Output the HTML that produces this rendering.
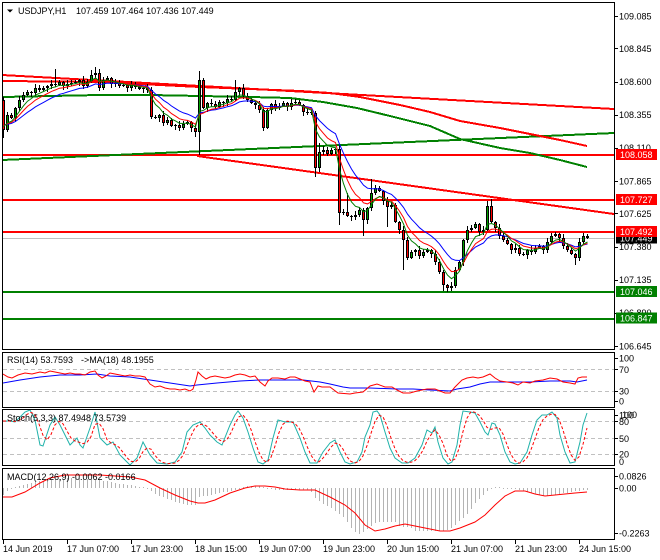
<!DOCTYPE html>
<html><head><meta charset="utf-8">
<style>
html,body{margin:0;padding:0;background:#fff;width:660px;height:560px;overflow:hidden}
svg{display:block}
text{font-family:"Liberation Sans",Arial,sans-serif;font-size:9px;fill:#000}
.w{fill:#fff}
</style></head><body>
<svg id="c" xmlns="http://www.w3.org/2000/svg" width="660" height="560" viewBox="0 0 660 560">
<defs>
<clipPath id="cm"><rect x="3" y="3" width="611" height="346"/></clipPath>
<clipPath id="cr"><rect x="3" y="353" width="611" height="54"/></clipPath>
<clipPath id="cs"><rect x="3" y="410" width="611" height="55"/></clipPath>
<clipPath id="cd"><rect x="3" y="469" width="611" height="70"/></clipPath>
</defs>
<rect width="660" height="560" fill="#fff"/>
<g id="main" clip-path="url(#cm)" shape-rendering="crispEdges">
<line x1="2" y1="238.5" x2="614" y2="238.5" stroke="#c0c0c0" stroke-width="1"/>
<line x1="2" y1="155" x2="614" y2="155" stroke="#ff0000" stroke-width="2"/>
<line x1="2" y1="200" x2="614" y2="200" stroke="#ff0000" stroke-width="2"/>
<line x1="2" y1="232" x2="614" y2="232" stroke="#ff0000" stroke-width="2"/>
<line x1="2" y1="292" x2="614" y2="292" stroke="#008000" stroke-width="2"/>
<line x1="2" y1="319" x2="614" y2="319" stroke="#008000" stroke-width="2"/>
<line x1="2" y1="75" x2="614" y2="109" stroke="#ff0000" stroke-width="2"/>
<line x1="2" y1="160" x2="614" y2="133" stroke="#008000" stroke-width="2"/>
<line x1="197" y1="156" x2="614" y2="214" stroke="#ff0000" stroke-width="2"/>
<polyline fill="none" stroke="#ff0000" stroke-width="2" points="3,81 100,82 200,87 250,89 300,91 330,93 360,97 400,105 430,112 460,121 500,128 530,134 560,140 587,146"/>
<polyline fill="none" stroke="#008000" stroke-width="2" points="3,97 50,96 100,95 150,95 200,96 250,97 290,98 323,102 357,108 390,116 430,126 460,139 500,148 530,153 560,160 587,167"/>
</g>
<g id="rsi" clip-path="url(#cr)">
<line x1="3" y1="369.5" x2="614" y2="369.5" stroke="#c0c0c0" stroke-dasharray="4,3"/>
<line x1="3" y1="391.5" x2="614" y2="391.5" stroke="#c0c0c0" stroke-dasharray="4,3"/>
<polyline fill="none" stroke="#0000ff" stroke-width="1" points="3,383 20,380 40,377 60,375 80,375 97,374 110,376 130,377 150,380 170,383 190,386 197,385 217,383 240,381 260,380 283,380 303,380 320,382 330,384 343,387 350,388 370,388 397,389 413,389 430,390 450,391 457,389 470,387 480,384 490,382 510,382 530,382 550,381 570,381 577,382 587,380"/>
<polyline fill="none" stroke="#ff0000" stroke-width="1" points="3,374 8,377 12,378 18,375 25,373 32,374 40,372 45,373 50,371 55,372 60,373 65,374 70,373 75,374 80,374 85,375 90,372 95,371 98,375 102,378 106,376 110,373 115,374 120,375 125,376 130,375 135,376 140,376 145,377 150,384 155,387 160,386 165,388 170,389 175,389 180,390 185,389 190,391 193,389 196,380 198,372 202,376 206,379 210,377 215,376 220,377 225,378 230,377 235,375 240,374 245,375 250,377 255,376 260,382 265,386 268,381 272,378 278,378 285,379 290,377 295,377 300,379 305,381 310,382 314,392 318,386 322,387 330,387 338,393 350,394 355,393 363,392 370,386 377,384 385,387 392,387 397,390 403,393 410,393 417,391 427,389 435,389 440,391 445,393 450,393 455,387 462,380 467,378 473,377 478,378 483,377 490,374 495,378 500,381 507,382 513,383 518,385 523,382 530,383 535,381 543,380 550,378 557,379 563,382 570,383 575,384 578,378 582,377 587,377"/>
</g>
<g id="sto" clip-path="url(#cs)">
<line x1="3" y1="421.5" x2="614" y2="421.5" stroke="#c0c0c0" stroke-dasharray="4,3"/>
<line x1="3" y1="438.5" x2="614" y2="438.5" stroke="#c0c0c0" stroke-dasharray="4,3"/>
<line x1="3" y1="454.5" x2="614" y2="454.5" stroke="#c0c0c0" stroke-dasharray="4,3"/>
</g>
<g id="mac" clip-path="url(#cd)"></g>

<!-- panel borders -->
<g fill="none" stroke="#000" stroke-width="1" shape-rendering="crispEdges">
<rect x="2.5" y="2.5" width="612" height="347"/>
<rect x="2.5" y="352.5" width="612" height="55"/>
<rect x="2.5" y="409.5" width="612" height="56"/>
<rect x="2.5" y="468.5" width="612" height="71"/>
</g>

<!-- labels in panels -->
<polygon points="7,9.5 13,9.5 10,12.5" fill="#000"/>
<text x="18" y="14">USDJPY,H1</text>
<text x="76" y="14">107.459 107.464 107.436 107.449</text>
<text x="7" y="363">RSI(14) 53.7593</text>
<text x="81" y="363">-&gt;MA(18) 48.1955</text>
<text x="7" y="421">Stoch(5,3,3) 87.4948 73.5739</text>
<text x="7" y="480">MACD(12,26,9) -0.0062 -0.0166</text>

<!-- price axis -->
<g id="axis" stroke="#000" stroke-width="1" shape-rendering="crispEdges"></g>
<g id="axt"></g>

<!-- time axis -->
<g stroke="#000" shape-rendering="crispEdges">
<line x1="3.5" y1="540" x2="3.5" y2="544"/><line x1="67.5" y1="540" x2="67.5" y2="544"/>
<line x1="131.5" y1="540" x2="131.5" y2="544"/><line x1="195.5" y1="540" x2="195.5" y2="544"/>
<line x1="259.5" y1="540" x2="259.5" y2="544"/><line x1="323.5" y1="540" x2="323.5" y2="544"/>
<line x1="387.5" y1="540" x2="387.5" y2="544"/><line x1="451.5" y1="540" x2="451.5" y2="544"/>
<line x1="515.5" y1="540" x2="515.5" y2="544"/><line x1="579.5" y1="540" x2="579.5" y2="544"/>
</g>
<text x="3" y="552">14 Jun 2019</text>
<text x="67" y="552">17 Jun 07:00</text>
<text x="131" y="552">17 Jun 23:00</text>
<text x="195" y="552">18 Jun 15:00</text>
<text x="259" y="552">19 Jun 07:00</text>
<text x="323" y="552">19 Jun 23:00</text>
<text x="387" y="552">20 Jun 15:00</text>
<text x="451" y="552">21 Jun 07:00</text>
<text x="515" y="552">21 Jun 23:00</text>
<text x="579" y="552">24 Jun 15:00</text>

<!-- indicator axes -->
<g stroke="#000" shape-rendering="crispEdges">
<line x1="614" y1="358.5" x2="618" y2="358.5"/><line x1="614" y1="369.5" x2="618" y2="369.5"/>
<line x1="614" y1="391.5" x2="618" y2="391.5"/><line x1="614" y1="401.5" x2="618" y2="401.5"/>
<line x1="614" y1="415.5" x2="618" y2="415.5"/><line x1="614" y1="421.5" x2="618" y2="421.5"/>
<line x1="614" y1="438.5" x2="618" y2="438.5"/><line x1="614" y1="454.5" x2="618" y2="454.5"/>
<line x1="614" y1="476.5" x2="618" y2="476.5"/><line x1="614" y1="488.5" x2="618" y2="488.5"/>
<line x1="614" y1="533.5" x2="618" y2="533.5"/>
</g>
<text x="619" y="361.5">100</text>
<text x="619" y="373">70</text>
<text x="619" y="394.5">30</text>
<text x="619" y="404.5">0</text>
<text x="619" y="418.5">100</text>
<text x="622" y="418">100</text>
<text x="619" y="425">80</text>
<text x="619" y="442">50</text>
<text x="619" y="457.5">20</text>
<text x="619" y="465">0</text>
<text x="619" y="479.5">0.0826</text>
<text x="619" y="491.5">0.00</text>
<text x="619" y="536.5">-0.2263</text>

<g id="boxes"></g>
</svg>
<script>
(function(){
var C=[130,115,118,108,100,95,92,93,88,90,
88,86,84,85,82,86,84,83,82,80,
86,82,75,73,88,80,78,84,83,86,
85,88,85,87,89,88,90,117,118,115,
123,120,126,125,128,124,122,128,132,80,
108,103,104,107,102,103,99,100,92,88,
96,100,103,105,110,128,110,104,108,106,
103,107,103,102,105,112,112,113,168,152,
150,154,150,149,213,212,216,217,215,210,
220,208,193,188,191,201,207,205,222,230,
240,258,252,250,256,252,250,254,262,272,
285,288,286,270,262,240,230,228,224,232,
230,206,222,228,236,240,244,250,248,254,
255,250,252,248,246,250,242,236,234,238,
246,250,254,258,242,236,238];
var N=C.length;
function X(i){return 3+4*i;}
function interp(P,x){if(x<=P[0][0])return P[0][1];for(var k=1;k<P.length;k++){if(x<=P[k][0]){var a=P[k-1],b=P[k];return a[1]+(b[1]-a[1])*(x-a[0])/(b[0]-a[0]);}}return P[P.length-1][1];}
function pl(pts,col,extra){return '<polyline fill="none" stroke="'+col+'" stroke-width="1" '+(extra||'')+' points="'+pts.map(function(p){return p[0]+','+(Math.round(p[1]*10)/10);}).join(' ')+'"/>';}
var HI={0:97,13:69,22:70,23:67,49:71,58:80,79:143,86:193,92:179,121:201,122:199};
var LO={0:138,48:137,49:155,65:131,78:177,84:225,90:236,96:227,100:270,110:291,111:292,143:265};
var s='';
for(var i=0;i<N;i++){
  var cx=X(i),o=i?C[i-1]:100,c=C[i];
  var t=Math.min(o,c),b=Math.max(o,c);
  var w1=1+((i*7+3)%4),w2=1+((i*11+2)%4);
  var hi=(i in HI)?HI[i]:t-w1, lo=(i in LO)?LO[i]:b+w2;
  s+='<rect x="'+cx+'" y="'+hi+'" width="1" height="'+(lo-hi)+'" fill="#000"/>';
  if(b-t<2){s+='<rect x="'+(cx-1)+'" y="'+t+'" width="3" height="1" fill="#000"/>';}
  else{
    s+='<rect x="'+(cx-1)+'" y="'+t+'" width="3" height="'+(b-t)+'" fill="#000"/>';
    if(b-t>2)s+='<rect x="'+cx+'" y="'+(t+1)+'" width="1" height="'+(b-t-2)+'" fill="'+(c<o?'#00a000':'#ff0000')+'"/>';
  }
}
function ema(p,init){var a=2/(p+1),e=init,r=[];for(var i=0;i<N;i++){e=e+a*(C[i]-e);r.push([X(i)+0.5,e]);}return r;}
var mg='<g shape-rendering="auto">'+pl(ema(14,125),'#0000ff')+pl(ema(8,125),'#ff0000')+pl(ema(5,125),'#008000')+'</g>';
document.getElementById('main').insertAdjacentHTML('beforeend',s+mg);

/* stochastic */
var T=[[3,421],[10,421],[15,422],[25,412],[30,410],[35,420],[40,445],[43,446],[50,425],[55,417],[60,425],[70,445],[77,438],[80,445],[83,448],[90,428],[95,412],[100,438],[107,445],[113,442],[120,455],[130,465],[137,458],[143,442],[150,455],[157,463],[167,464],[175,462],[182,452],[187,432],[193,425],[200,422],[205,428],[210,435],[217,442],[222,445],[230,425],[235,415],[238,411],[243,418],[248,432],[253,448],[258,462],[263,464],[268,460],[273,438],[278,420],[285,422],[293,422],[300,438],[305,452],[310,463],[317,463],[323,452],[330,443],[335,440],[340,452],[345,462],[350,464],[357,462],[362,452],[365,437],[370,425],[373,412],[377,411],[380,415],[385,432],[390,448],[395,458],[402,463],[408,463],[415,458],[422,445],[427,430],[432,433],[435,427],[438,442],[443,458],[448,464],[452,462],[457,445],[460,425],[463,411],[470,412],[475,413],[480,422],[485,432],[488,435],[492,423],[495,424],[500,435],[505,452],[510,462],[515,464],[520,463],[527,452],[532,435],[537,420],[542,415],[547,415],[552,412],[557,418],[560,435],[565,452],[570,463],[575,462],[580,442],[583,425],[587,413]];
var sig=[];
for(var i=0;i<N;i++){var x=X(i);sig.push([x,(interp(T,x)+interp(T,x-4)+interp(T,x-8))/3]);}
document.getElementById('sto').insertAdjacentHTML('beforeend',pl(T,'#20b2aa')+pl(sig,'#ff0000','stroke-dasharray="3,2"'));

/* MACD */
var H=[[3,495],[7,491],[11,488],[15,487],[19,486],[23,485],[30,483],[40,481],[50,480],[60,479],[70,478],[80,478],[90,479],[100,480],[110,482],[120,484],[130,485],[140,487],[148,488],[152,492],[160,496],[170,500],[180,503],[188,505],[195,505],[199,497],[205,496],[215,494],[225,492],[235,490],[243,487],[250,486],[258,486],[265,487],[270,489],[280,490],[290,490],[300,490],[310,490],[315,498],[322,503],[330,507],[345,518],[350,527],[355,532],[360,534],[365,530],[370,527],[375,523],[380,522],[395,522],[400,527],[410,527],[415,531],[445,531],[450,529],[455,525],[460,520],[465,517],[470,510],[475,503],[480,498],[485,493],[490,489],[495,487],[500,487],[505,488],[515,489],[525,491],[535,494],[545,496],[555,495],[565,493],[575,491],[587,490]];
var hs='<g shape-rendering="crispEdges">';
for(var i=0;i<N;i++){var x=X(i),y=Math.round(interp(H,x));var top=Math.min(488,y),h=Math.max(1,Math.abs(y-488));hs+='<rect x="'+x+'" y="'+top+'" width="1" height="'+h+'" fill="#b4b4b4"/>';}
hs+='</g>';
var S=[[3,497],[12,497],[25,492],[40,483],[50,478],[65,475],[100,475],[130,477],[145,480],[160,488],[175,495],[190,501],[198,503],[205,503],[215,500],[230,493],[245,488],[255,486],[265,486],[275,487],[285,489],[300,490],[315,490],[330,497],[345,505],[355,513],[365,525],[375,531],[385,529],[395,526],[405,524],[415,526],[425,528],[440,531],[450,531],[460,528],[475,522],[485,515],[495,505],[505,496],[515,491],[525,491],[535,494],[545,496],[555,495],[565,494],[575,493],[587,492]];
document.getElementById('mac').insertAdjacentHTML('beforeend',hs+pl(S,'#ff0000'));

/* price axis */
var ax='',at='';
var labs=['109.085','108.845','108.600','108.355','108.110','107.865','107.625','107.380','107.135','106.890','106.645'];
for(var k=0;k<labs.length;k++){
  var v=parseFloat(labs[k]);var y=16+(109.085-v)*135.25;var yr=Math.round(y);
  ax+='<line x1="614" y1="'+(yr+0.5)+'" x2="618" y2="'+(yr+0.5)+'"/>';
  at+='<text x="619" y="'+(y+3.3).toFixed(1)+'">'+labs[k]+'</text>';
}
document.getElementById('axis').insertAdjacentHTML('beforeend',ax);
document.getElementById('axt').insertAdjacentHTML('beforeend',at);

/* boxes */
function box(y,col,txt){return '<rect x="616" y="'+(y-5.5)+'" width="41" height="11" fill="'+col+'"/><text class="w" x="620" y="'+(y+3.3)+'">'+txt+'</text>';}
var bx=box(154.5,'#ff0000','108.058')+box(199.5,'#ff0000','107.727')+box(238,'#000000','107.449')+box(231.5,'#ff0000','107.492')+box(291.5,'#008000','107.046')+box(318,'#008000','106.847');
document.getElementById('boxes').insertAdjacentHTML('beforeend',bx);
})();
</script>
</body></html>
